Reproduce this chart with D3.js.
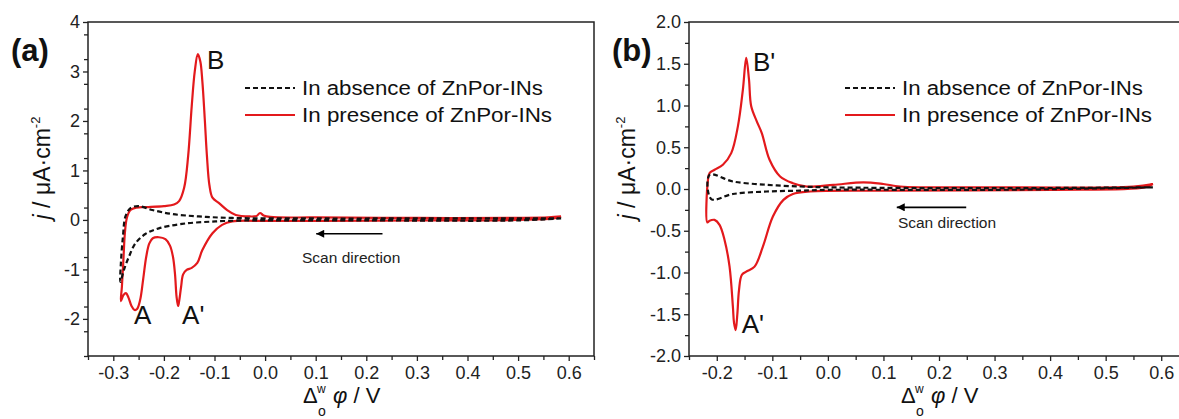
<!DOCTYPE html>
<html>
<head>
<meta charset="utf-8">
<script src="https://cdn.jsdelivr.net/npm/d3@7"></script>
<style>
  body { margin: 0; background: #fff; }
  svg { display: block; font-family: "Liberation Sans", Arial, sans-serif; }
  .tick text { font-size: 18px; fill: #222; }
</style>
</head>
<body>
<svg width="1179" height="419"></svg>
<script>
// ---- data: [potential (V), current density (uA/cm2)], scan starts at the right and goes left ----
const aAbsence = [
  [0.585, 0.03], [0.5, -0.01], [0.2, -0.01], [0.0, -0.01], [-0.032, -0.01], [-0.098, -0.03],
  [-0.164, -0.08], [-0.21, -0.17], [-0.236, -0.28], [-0.256, -0.47], [-0.269, -0.74],
  [-0.279, -1.01], [-0.286, -1.25], [-0.285, -0.87], [-0.281, -0.34], [-0.276, 0.07],
  [-0.266, 0.24], [-0.25, 0.28], [-0.223, 0.2], [-0.184, 0.12], [-0.131, 0.07], [-0.065, 0.04],
  [0.1, 0.03], [0.3, 0.03], [0.585, 0.03]
];
const aPresence = [
  [0.585, 0.07], [0.57, 0.03], [0.5, 0.0], [0.3, -0.01], [0.1, -0.02], [0.0, -0.02],
  [-0.065, -0.03], [-0.085, -0.1], [-0.104, -0.27], [-0.124, -0.61], [-0.134, -0.87],
  [-0.145, -0.97], [-0.155, -1.01], [-0.162, -1.1], [-0.166, -1.35], [-0.17, -1.65],
  [-0.172, -1.74], [-0.175, -1.55], [-0.178, -1.1], [-0.182, -0.75], [-0.188, -0.52],
  [-0.197, -0.39], [-0.21, -0.35], [-0.222, -0.37], [-0.229, -0.48], [-0.235, -0.75],
  [-0.241, -1.2], [-0.247, -1.62], [-0.253, -1.8], [-0.258, -1.82], [-0.264, -1.74],
  [-0.27, -1.57], [-0.275, -1.48], [-0.28, -1.52], [-0.285, -1.64], [-0.283, -1.35],
  [-0.28, -0.8], [-0.277, -0.25], [-0.273, 0.05], [-0.266, 0.2], [-0.255, 0.25],
  [-0.235, 0.26], [-0.2, 0.28], [-0.18, 0.31], [-0.17, 0.38], [-0.16, 0.65], [-0.152, 1.3],
  [-0.145, 2.3], [-0.139, 3.0], [-0.133, 3.35], [-0.128, 3.2], [-0.124, 2.8], [-0.119, 2.0],
  [-0.115, 1.3], [-0.11, 0.7], [-0.104, 0.45], [-0.091, 0.34], [-0.075, 0.2], [-0.058, 0.1],
  [-0.03, 0.07], [-0.017, 0.08], [-0.01, 0.14], [-0.003, 0.09], [0.01, 0.06], [0.1, 0.05],
  [0.3, 0.04], [0.5, 0.04], [0.56, 0.05], [0.585, 0.07]
];
const bAbsence = [
  [0.585, 0.02], [0.3, -0.01], [0.0, -0.01], [-0.05, -0.02], [-0.11, -0.03], [-0.171, -0.06],
  [-0.21, -0.12], [-0.213, 0.17], [-0.171, 0.09], [-0.11, 0.05], [-0.05, 0.03], [0.0, 0.02],
  [0.3, 0.01], [0.585, 0.02]
];
const bPresence = [
  [0.585, 0.06], [0.57, 0.02], [0.4, -0.01], [0.1, -0.02], [-0.032, -0.03], [-0.063, -0.06],
  [-0.08, -0.13], [-0.099, -0.33], [-0.117, -0.69], [-0.132, -0.93], [-0.147, -0.99],
  [-0.155, -1.03], [-0.16, -1.21], [-0.163, -1.5], [-0.166, -1.69], [-0.169, -1.6],
  [-0.171, -1.41], [-0.177, -0.93], [-0.186, -0.61], [-0.195, -0.43], [-0.204, -0.37],
  [-0.213, -0.38], [-0.217, -0.4], [-0.216, 0.1], [-0.213, 0.19], [-0.204, 0.23],
  [-0.189, 0.29], [-0.174, 0.43], [-0.162, 0.75], [-0.153, 1.19], [-0.147, 1.57],
  [-0.142, 1.31], [-0.138, 0.99], [-0.128, 0.81], [-0.119, 0.67], [-0.105, 0.35],
  [-0.086, 0.15], [-0.063, 0.07], [-0.038, 0.03], [0.01, 0.05], [0.064, 0.08], [0.1, 0.06],
  [0.13, 0.03], [0.3, 0.02], [0.55, 0.03], [0.585, 0.06]
];

const aXTicks = [-0.3, -0.2, -0.1, 0.0, 0.1, 0.2, 0.3, 0.4, 0.5, 0.6];
const aYTicks = [-2, -1, 0, 1, 2, 3, 4];
const bXTicks = [-0.2, -0.1, 0.0, 0.1, 0.2, 0.3, 0.4, 0.5, 0.6];
const bYTicks = [-2.0, -1.5, -1.0, -0.5, 0.0, 0.5, 1.0, 1.5, 2.0];

const legendNames = ["In absence of ZnPor-INs", "In presence of ZnPor-INs"];
const aPeaks = [["B", -0.115, 3.05], ["A", -0.259, -2.1], ["A'", -0.164, -2.1]];
const bPeaks = [["B'", -0.135, 1.41], ["A'", -0.155, -1.72]];

const red = "#e3191c";
const svg = d3.select("svg");

svg.append("defs").append("marker")
  .attr("id", "arrow")
  .attr("viewBox", "0 0 10 10")
  .attr("refX", 10).attr("refY", 5)
  .attr("markerWidth", 11).attr("markerHeight", 8)
  .attr("markerUnits", "userSpaceOnUse")
  .attr("orient", "auto")
  .append("path").attr("d", "M0,0L10,5L0,10Z").attr("fill", "#000");

function drawPanel(cfg) {
  const x = d3.scaleLinear().domain(cfg.xDomain).range([cfg.left, cfg.right]);
  const y = d3.scaleLinear().domain(cfg.yDomain).range([356, 22]);
  const g = svg.append("g");

  // minor ticks
  const xMinor = d3.range(cfg.xDomain[0], cfg.xDomain[1] + 1e-9, 0.05)
    .filter(v => !cfg.xTicks.some(t => Math.abs(t - v) < 1e-6));
  const yMinor = d3.range(cfg.yDomain[0], cfg.yDomain[1] + 1e-9, cfg.yMinor)
    .filter(v => !cfg.yTicks.some(t => Math.abs(t - v) < 1e-6));

  g.append("g").attr("transform", "translate(0,356)")
    .call(d3.axisBottom(x).tickValues(xMinor).tickSize(4).tickFormat(""))
    .call(s => s.select(".domain").remove());
  g.append("g").attr("transform", `translate(${cfg.left},0)`)
    .call(d3.axisLeft(y).tickValues(yMinor).tickSize(4).tickFormat(""))
    .call(s => s.select(".domain").remove());

  g.append("g").attr("transform", "translate(0,356)")
    .call(d3.axisBottom(x).tickValues(cfg.xTicks).tickSize(5).tickPadding(5).tickFormat(d3.format(".1f")))
    .call(s => s.select(".domain").remove());
  g.append("g").attr("transform", `translate(${cfg.left},0)`)
    .call(d3.axisLeft(y).tickValues(cfg.yTicks).tickSize(5).tickPadding(3).tickFormat(cfg.yFormat))
    .call(s => s.select(".domain").remove());
  g.selectAll(".tick line").attr("stroke", "#222").attr("stroke-width", 1.3);
  g.selectAll(".tick text").text(function () { return this.textContent.replace("−", "-"); });

  // frame
  g.append("rect")
    .attr("x", cfg.left).attr("y", 22)
    .attr("width", cfg.right - cfg.left).attr("height", 334)
    .attr("fill", "none").attr("stroke", "#222").attr("stroke-width", 1.5);

  const line = d3.line().x(d => x(d[0])).y(d => y(d[1])).curve(d3.curveCatmullRom.alpha(0.5));

  g.append("path").datum(cfg.presence)
    .attr("d", line).attr("fill", "none").attr("stroke", red).attr("stroke-width", 2.2);
  g.append("path").datum(cfg.absence)
    .attr("d", line).attr("fill", "none").attr("stroke", "#111")
    .attr("stroke-width", 2.2).attr("stroke-dasharray", "5,3");

  // peak labels
  g.selectAll(".peak").data(cfg.peaks).join("text")
    .attr("x", d => x(d[1])).attr("y", d => y(d[2]))
    .attr("font-size", 26).attr("fill", "#111").text(d => d[0]);

  // scan direction
  g.append("line")
    .attr("x1", x(cfg.arrow[0])).attr("x2", x(cfg.arrow[1]))
    .attr("y1", y(cfg.arrow[2])).attr("y2", y(cfg.arrow[2]))
    .attr("stroke", "#000").attr("stroke-width", 1.6)
    .attr("marker-end", "url(#arrow)");
  g.append("text")
    .attr("x", x(cfg.scanText[0])).attr("y", y(cfg.scanText[1]))
    .attr("font-size", 15.5).attr("fill", "#222").text("Scan direction");

  // legend
  const lg = g.append("g").attr("transform", `translate(${cfg.legendX},88)`);
  legendNames.forEach((name, i) => {
    lg.append("line").attr("x1", 0).attr("x2", 50).attr("y1", i * 27).attr("y2", i * 27)
      .attr("stroke", i === 0 ? "#111" : red).attr("stroke-width", i === 0 ? 2 : 2.2)
      .attr("stroke-dasharray", i === 0 ? "5,3" : null);
    lg.append("text").attr("x", 57).attr("y", i * 27 + 7)
      .attr("font-size", 20).attr("fill", "#111")
      .attr("textLength", i === 0 ? 241 : 250).attr("lengthAdjust", "spacingAndGlyphs")
      .text(name);
  });

  // y label
  const yl = g.append("text")
    .attr("transform", `translate(${cfg.yLabelX},168) rotate(-90)`)
    .attr("text-anchor", "middle").attr("font-size", 23).attr("fill", "#111");
  yl.append("tspan").attr("font-style", "italic").text("j");
  yl.append("tspan").text(" / \u03bcA\u00b7cm");
  yl.append("tspan").attr("font-size", 13).attr("dy", -10).text("-2");

  // x label
  const cx = (cfg.left + cfg.right) / 2;
  g.append("text").attr("x", cx - 38).attr("y", 403).attr("font-size", 22).attr("fill", "#111").text("\u0394");
  g.append("text").attr("x", cx - 24).attr("y", 393).attr("font-size", 12).attr("fill", "#111").text("w");
  g.append("text").attr("x", cx - 23).attr("y", 416).attr("font-size", 14).attr("fill", "#111").text("o");
  const xl = g.append("text").attr("x", cx - 8).attr("y", 403).attr("font-size", 22).attr("fill", "#111");
  xl.append("tspan").attr("font-style", "italic").text("\u03c6");
  xl.append("tspan").text(" / V");

  // panel tag
  g.append("text").attr("x", cfg.tagX).attr("y", 61)
    .attr("font-size", 31).attr("font-weight", "bold").attr("fill", "#111").text(cfg.tag);
}

drawPanel({
  left: 88, right: 594,
  xDomain: [-0.35, 0.65], yDomain: [-2.75, 4],
  xTicks: aXTicks, yTicks: aYTicks, yMinor: 0.5, yFormat: d3.format("d"),
  absence: aAbsence, presence: aPresence, peaks: aPeaks,
  arrow: [0.232, 0.101, -0.28], scanText: [0.073, -0.87],
  legendX: 245, yLabelX: 50, tag: "(a)", tagX: 11
});

drawPanel({
  left: 689, right: 1189,
  xDomain: [-0.25, 0.65], yDomain: [-2, 2],
  xTicks: bXTicks, yTicks: bYTicks, yMinor: 0.25, yFormat: d3.format(".1f"),
  absence: bAbsence, presence: bPresence, peaks: bPeaks,
  arrow: [0.249, 0.124, -0.22], scanText: [0.126, -0.47],
  legendX: 845, yLabelX: 635, tag: "(b)", tagX: 612
});
</script>
</body>
</html>
